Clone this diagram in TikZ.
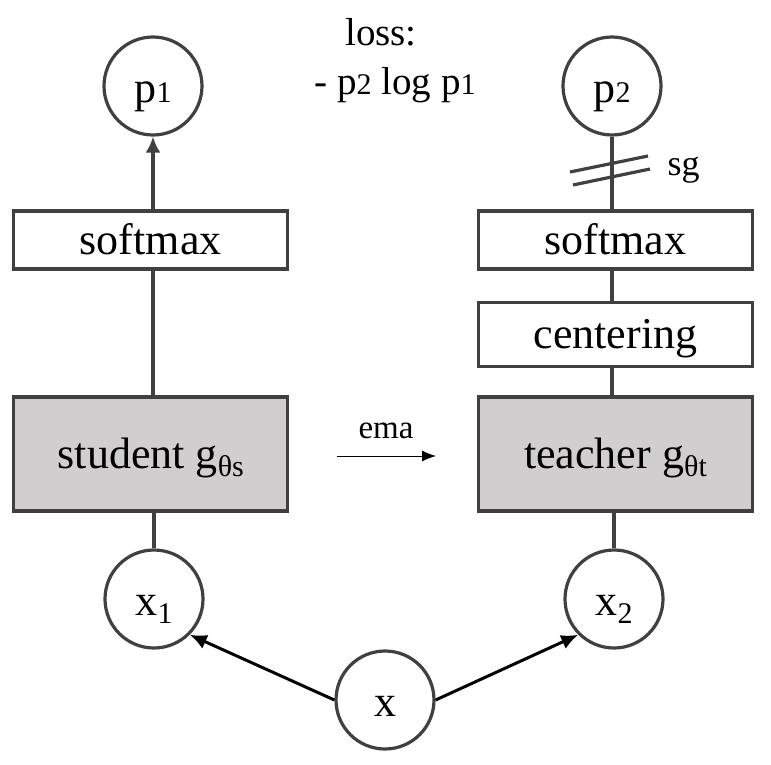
\documentclass[tikz,border=0pt]{standalone}
\usepackage{fontspec}
\setmainfont{Liberation Serif}
\usetikzlibrary{arrows.meta}
\definecolor{edge}{HTML}{404040}
\definecolor{boxfill}{HTML}{D0CECF}
\newcommand\sbx[2][0pt]{\raisebox{#1}{\fontsize{30}{30}\selectfont #2}}
\begin{document}
\begin{tikzpicture}[x=1pt,y=-1pt,
  every node/.style={font=\fontsize{44}{50}\selectfont, text=black},
  circ/.style={circle, draw=edge, line width=3.2pt, minimum size=98pt, inner sep=0pt, fill=white, text height=33pt, text depth=0pt},
  box/.style={rectangle, draw=edge, line width=3.2pt, minimum width=274pt, inner sep=0pt, fill=white, text height=28pt, text depth=0pt},
  netbox/.style={box, fill=boxfill, minimum height=114pt},
  link/.style={draw=edge, line width=3.2pt},
  arr/.style={black, line width=3pt, -{Latex[length=17pt,width=15pt]}},
  ]
\useasboundingbox (0,0) rectangle (771,765);

% circles
\node[circ] (p1) at (153,86) {p\sbx{1}};
\node[circ] (p2) at (612,86) {p\sbx{2}};
\node[circ] (x1) at (154,599) {x\sbx[-8pt]{1}};
\node[circ] (x2) at (614,599) {x\sbx[-8pt]{2}};
\node[circ] (x)  at (385,700) {x};

% boxes
\node[box, minimum height=58pt] (smL) at (150.75,240) {softmax};
\node[netbox] (stu) at (150.75,454) {student g\sbx[-8pt]{θs}};
\node[box, minimum height=58pt] (smR) at (615.5,240) {softmax};
\node[box, minimum height=64pt] (cen) at (615.5,334.5) {centering};
\node[netbox] (tea) at (615.5,454) {teacher g\sbx[-8pt]{θt}};

% vertical links
\draw[link, -{Latex[length=16pt,width=15pt]}] (smL.north -| p1) -- (p1.south);
\draw[link] (stu.north -| p1) -- (smL.south -| p1);
\draw[link] (x1.north) -- (stu.south -| x1);
\draw[link] (p2.south) -- (smR.north -| p2);
\draw[link] (smR.south -| p2) -- (cen.north -| p2);
\draw[link] (cen.south -| p2) -- (tea.north -| p2);
\draw[link] (x2.north) -- (tea.south -| x2);

% stop gradient mark
\coordinate (sgc) at (610,170.5);
\draw[link] ([shift={(-40,1.5)}]sgc) -- ([shift={(38,-14.5)}]sgc);
\draw[link] ([shift={(-37,14.5)}]sgc) -- ([shift={(40,-1.5)}]sgc);
\node[font=\fontsize{36}{40}\selectfont, anchor=west] (sg) at (664,170) {sg};

% augmentations
\draw[arr] (x.west) -- (x1.south east);
\draw[arr] (x.east) -- (x2.south west);

% ema
\coordinate (emaA) at (337,456);
\coordinate (emaB) at (436,456);
\draw[black, line width=1pt, -{Latex[length=14pt,width=11pt]}] (emaA) -- (emaB);
\node[font=\fontsize{33}{36}\selectfont, anchor=base] (ema) at (386,438) {ema};

% loss
\node[anchor=base, font=\fontsize{39}{44}\selectfont] (loss) at (381,46) {loss:};
\node[anchor=base, font=\fontsize{39}{44}\selectfont] (lossf) at (395,95) {- p\sbx{2} log p\sbx{1}};
\end{tikzpicture}
\end{document}
